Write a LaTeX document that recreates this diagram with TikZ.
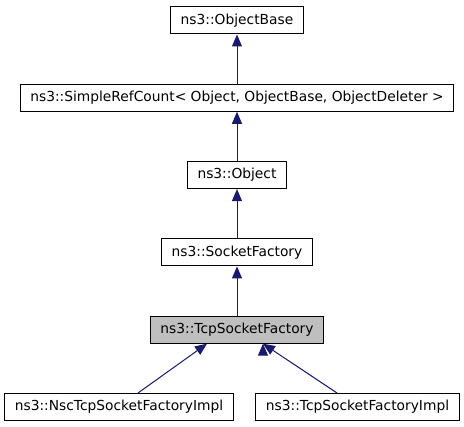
\documentclass[tikz,border=0pt]{standalone}
\usepackage{fontspec}
\setmainfont{DejaVu Sans}
\usepackage{tikz}
\usetikzlibrary{arrows.meta, positioning}
\definecolor{edgeblue}{RGB}{25,25,112}

\begin{document}
\begin{tikzpicture}[<-,>={Triangle[width=10pt,length=12pt]},semithick,
                    node distance=77.3pt, x=1pt, y=1pt]
  \tikzstyle{every node}=[draw=black,fill=white,text=black,line width=1pt,
                          font=\fontsize{13.8}{15}\selectfont,minimum height=27pt,
                          inner xsep=10pt]
  \tikzstyle{cur}=[fill=black!25]
  \tikzstyle{edge}=[draw=edgeblue,fill=edgeblue,line width=1pt]
  \useasboundingbox (0,0) rectangle (464,-427);

  \node (base)   at (237,-20.5)        {ns3::ObjectBase};
  \node (refcnt) [below of=base]       {ns3::SimpleRefCount< Object, ObjectBase, ObjectDeleter >};
  \node (obj)    [below of=refcnt]     {ns3::Object};
  \node (sock)   [below of=obj]        {ns3::SocketFactory};
  \node[cur] (tcp) [below of=sock]     {ns3::TcpSocketFactory};
  \node (nsc)    [below of=tcp, xshift=-118pt] {ns3::NscTcpSocketFactoryImpl};
  \node (impl)   [below of=tcp, xshift=120.5pt] {ns3::TcpSocketFactoryImpl};

  \path[edge] (base) edge (refcnt)
        (refcnt) edge (obj)
        (obj) edge (sock)
        (sock) edge (tcp)
        ([xshift=-30pt]tcp.south) edge ([xshift=19pt]nsc.north)
        ([xshift=26pt]tcp.south) edge ([xshift=-20.5pt]impl.north);
\end{tikzpicture}
\end{document}
